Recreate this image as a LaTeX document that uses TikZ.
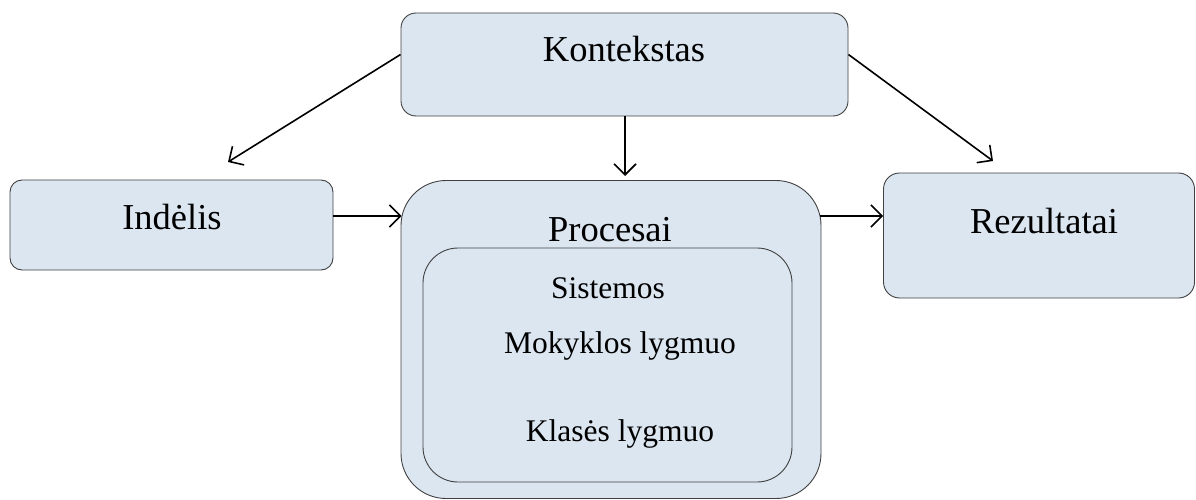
\documentclass[tikz,border=0pt]{standalone}
\usepackage{fontspec}
\setmainfont{Liberation Serif}
\usetikzlibrary{arrows.meta}
\definecolor{boxfill}{HTML}{DCE6F1}
\definecolor{boxline}{HTML}{404040}
\begin{document}
\begin{tikzpicture}[x=1pt,y=-1pt,
  box/.style={draw=boxline, fill=boxfill, line width=0.9pt, inner sep=0pt},
  big/.style={font=\fontsize{36.5}{40}\selectfont, inner sep=0pt, anchor=base},
  small/.style={font=\fontsize{31.5}{36}\selectfont, inner sep=0pt, anchor=base},
  arr/.style={line width=1.6pt, -{Straight Barb[length=11pt,width=22pt,line width=1.6pt]}}]
\useasboundingbox (0,0) rectangle (1196,500);
% boxes
\node[box, rounded corners=15pt, minimum width=447pt, minimum height=103pt] (kont) at (624.5,64.5) {};
\node[box, rounded corners=12pt, minimum width=323pt, minimum height=90pt] (ind) at (171.5,225) {};
\node[box, rounded corners=16pt, minimum width=311pt, minimum height=125pt] (rez) at (1039,235.5) {};
\node[box, rounded corners=45pt, minimum width=420pt, minimum height=318pt] (proc) at (611,339.5) {};
\node[box, rounded corners=35pt, minimum width=369pt, minimum height=234pt] (inner) at (607.5,365) {};
% texts
\node[big] (tkont) at (624,62) {Kontekstas};
\node[big] (tind) at (172,229) {Indėlis};
\node[big] (trez) at (1044,233) {Rezultatai};
\node[big] (tproc) at (610,241) {Procesai};
\node[small] (tsis) at (608,298) {Sistemos};
\node[small] (tmok) at (620,353) {Mokyklos lygmuo};
\node[small] (tkla) at (620,441) {Klasės lygmuo};
% arrow ends
\coordinate (eL) at (228,162);
\coordinate (eR) at (993,161);
\coordinate (eD) at (625,176);
% arrows
\draw[arr] ([yshift=10pt]kont.west) -- (eL);
\draw[arr] ([yshift=10pt]kont.east) -- (eR);
\draw[arr] (kont.south -| eD) -- (eD);
\draw[arr] ([yshift=9pt]ind.east) -- ([yshift=9pt,xshift=1pt]ind.east -| proc.west);
\draw[arr] ([yshift=123.5pt,xshift=-1pt]proc.east) -- ([yshift=123.5pt]proc.east -| rez.west);
\end{tikzpicture}
\end{document}
